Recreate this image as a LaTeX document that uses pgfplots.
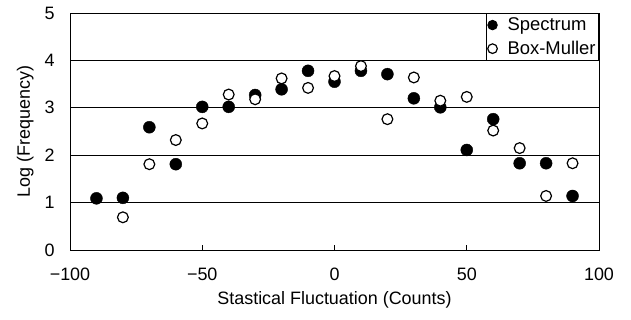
\documentclass[border=0pt]{standalone}
\usepackage{pgfplots}
\pgfplotsset{compat=1.18}
\usepackage{fontspec}
\setmainfont{Liberation Sans}
\begin{document}
\begin{tikzpicture}
\begin{axis}[
  scale only axis, width=529bp, height=237bp,
  xmin=-100, xmax=100, ymin=0, ymax=5,
  xtick={-100,-50,0,50,100},
  xticklabels={−100,−50,0,50,100},
  ytick={0,1,2,3,4,5},
  yticklabels={0,1,2,3,4,5},
  ymajorgrids, grid style={black, line width=0.8bp},
  axis line style={line width=0.8bp},
  xtick pos=bottom, ytick pos=left, tick align=inside,
  major tick length=5bp,
  ytick style={draw=none},
  xtick style={black, line width=0.8bp},
  font=\fontsize{18}{20}\selectfont,
  xticklabel style={yshift=-14bp},
  yticklabel style={xshift=-12bp},
  xlabel={Stastical Fluctuation (Counts)},
  ylabel={Log (Frequency)},
  xlabel style={yshift=-4bp},
  ylabel style={yshift=4bp},
  legend cell align=left,
  legend image code/.code={\path[draw=none,fill=none] (0bp,0bp) -- (18bp,0bp);\draw[#1, mark size=4.8bp] plot coordinates {(5bp,0bp)};},
  legend style={at={(1,1)}, anchor=north east, draw=black, line width=0.8bp,
    font=\fontsize{18.5}{20}\selectfont, inner xsep=1bp, inner ysep=2.5bp,
    row sep=5bp, fill=white,
    /tikz/every odd column/.style={column sep=0bp}},
  clip=false,
]
\addplot[only marks, mark=*, mark size=6bp, draw=black, fill=black]
  coordinates {
  (-90,1.09) (-80,1.10) (-70,2.59) (-60,1.81) (-50,3.02) (-40,3.02)
  (-30,3.27) (-20,3.39) (-10,3.78) (0,3.55) (10,3.78) (20,3.71)
  (30,3.20) (40,3.01) (50,2.11) (60,2.76) (70,1.83) (80,1.83) (90,1.14)
  };
\addlegendentry{Spectrum}
\addplot[only marks, mark=*, mark size=5.4bp, draw=black, fill=white, line width=1.2bp]
  coordinates {
  (-80,0.69) (-70,1.81) (-60,2.32) (-50,2.67) (-40,3.28) (-30,3.18)
  (-20,3.62) (-10,3.42) (0,3.67) (10,3.88) (20,2.76) (30,3.64)
  (40,3.15) (50,3.23) (60,2.52) (70,2.15) (80,1.14) (90,1.83)
  };
\addlegendentry{Box-Muller\hspace{4bp}}
\coordinate (sw) at (rel axis cs:0,0);
\coordinate (ne) at (rel axis cs:1,1);
\end{axis}
\pgfresetboundingbox
\path ([shift={(-70bp,-70bp)}]sw) rectangle ([shift={(32bp,13bp)}]ne);
\end{tikzpicture}
\end{document}
